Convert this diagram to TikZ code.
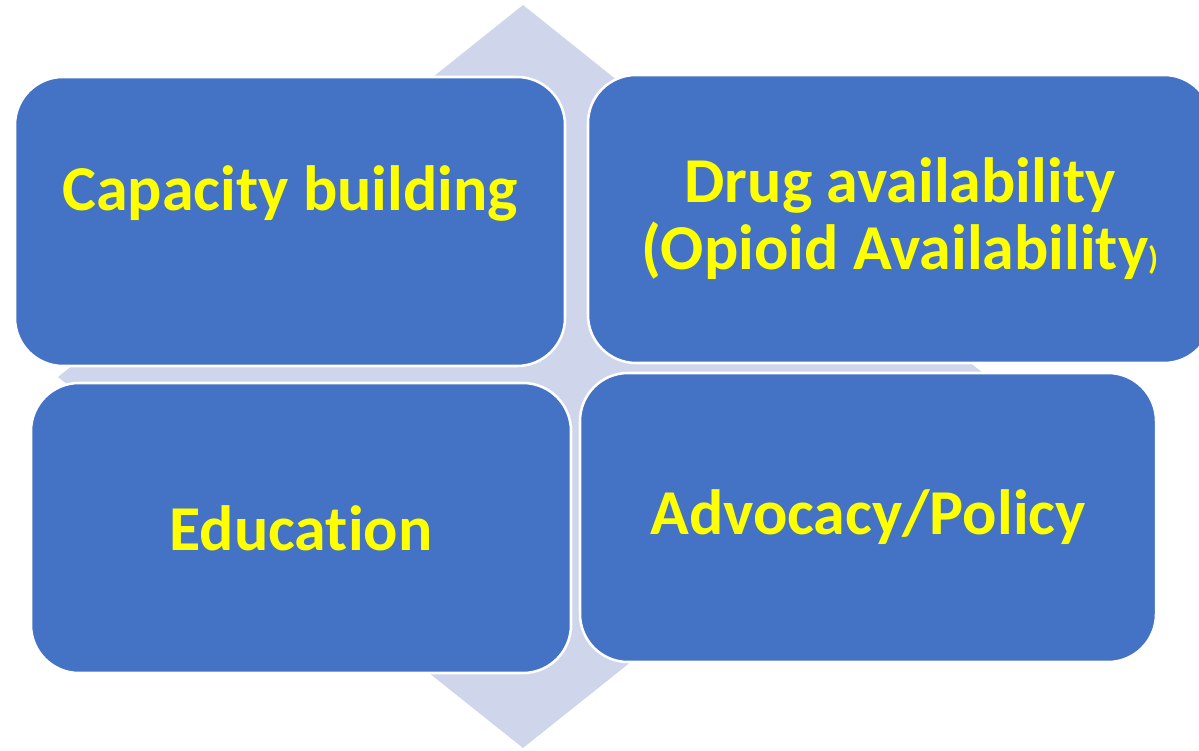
\documentclass[tikz,border=0pt]{standalone}
\usepackage{fontspec}
\setmainfont{Carlito}[RawFeature=-liga]

\definecolor{boxblue}{HTML}{4472C4}
\definecolor{lavender}{HTML}{CFD5EA}
\definecolor{txtyellow}{HTML}{FFFF00}

\tikzstyle{block} = [draw = white, fill = boxblue, text = txtyellow, text centered, align = center, rounded corners = 1.2cm, line width = 1.8pt, font = \bfseries\fontsize{45.5}{47.6}\selectfont]

\begin{document}
\begin{tikzpicture}
		\useasboundingbox (0, 0) rectangle (29.975, -18.775);
		\clip (0, 0) rectangle (29.975, -18.775);
		\fill [lavender] (13.075, -0.125) -- (24.7, -9.425) -- (13.075, -18.7) -- (1.45, -9.425) -- cycle;
		
		\node [block, minimum width = 13.75cm, minimum height = 7.225cm] at (7.25, -5.5375) (1) {Capacity building\\ \mbox{}};
		\node [block, minimum width = 15.6cm, minimum height = 7.2cm] at (22.5, -5.475) (2) {Drug availability\\(Opioid Availability{\fontsize{23}{23}\selectfont )}};
		\node [block, minimum width = 13.5cm, minimum height = 7.25cm] at (7.525, -13.2) (3) {Education};
		\node [block, minimum width = 14.4cm, minimum height = 7.225cm] at (21.7, -12.9375) (4) {Advocacy/Policy};
	\end{tikzpicture}
\end{document}
